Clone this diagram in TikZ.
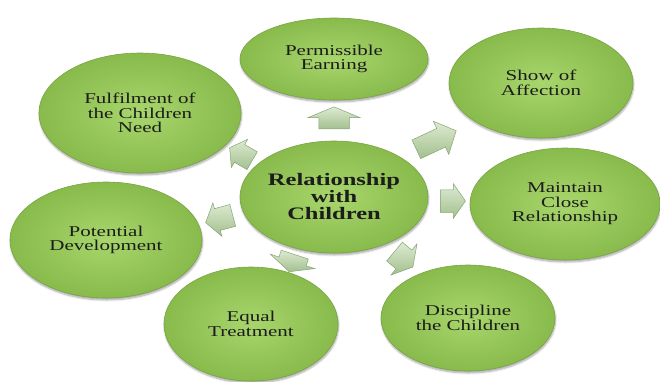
\documentclass[tikz,border=0pt]{standalone}
\usepackage{fontspec}
\setmainfont{Liberation Serif}[FakeStretch=1.4]
\usetikzlibrary{shapes.geometric,shapes.arrows,shadows.blur}
\definecolor{ellin}{HTML}{A8D66C}
\definecolor{ellout}{HTML}{88BA4C}
\definecolor{ellline}{HTML}{7AA444}
\definecolor{arrtop}{HTML}{DDEBD2}
\definecolor{arrbot}{HTML}{A3BF8E}
\definecolor{arrline}{HTML}{86A474}
\definecolor{txt}{HTML}{1C1C1C}
\tikzset{
  bubble/.style={ellipse, inner sep=0pt, draw=ellline, line width=0.6pt,
    inner color=ellin, outer color=ellout, align=center, text=txt,
    font=\fontsize{15}{14.6}\selectfont,
    blur shadow={shadow xshift=0.5pt, shadow yshift=-2pt, shadow blur steps=6, shadow opacity=35}},
  hub/.style={bubble, font=\fontsize{17.5}{17}\selectfont\bfseries},
  blockarrow/.style={single arrow, inner xsep=0pt, draw=arrline, line width=0.5pt,
    top color=arrtop, bottom color=arrbot, shading angle=0},
}
\begin{document}
\begin{tikzpicture}[x=1pt,y=-1pt]
\useasboundingbox (0,0) rectangle (660,381);
% satellites
\node[bubble, minimum width=188, minimum height=82] (perm) at (334,59) {Permissible\\Earning};
\node[bubble, minimum width=184, minimum height=110] (show) at (541,83) {Show of\\Affection};
\node[bubble, minimum width=202, minimum height=120] (ful) at (140,113) {Fulfilment of\\the Children\\Need};
\node[bubble, minimum width=190, minimum height=112] (maint) at (565,204) {Maintain\\Close\\Relationship};
\node[bubble, minimum width=192, minimum height=116] (pot) at (106,240) {Potential\\Development};
\node[bubble, minimum width=174, minimum height=114] (eq) at (251,324) {Equal\\Treatment};
\node[bubble, minimum width=174, minimum height=106] (dis) at (468,318) {Discipline\\the Children};
% hub
\node[hub, minimum width=188, minimum height=112] (hub) at (334,197) {Relationship\\with\\Children};
% arrows
\node[blockarrow, rotate=90, minimum height=22, inner ysep=15pt, single arrow head extend=11pt, single arrow tip angle=135] (a1) at (334,121) {};
\node[blockarrow, rotate=25, minimum height=44, inner ysep=10pt, single arrow head extend=8pt, single arrow tip angle=95] (a2) at (432,142) {};
\node[blockarrow, rotate=0, minimum height=25, inner ysep=11pt, single arrow head extend=6pt, single arrow tip angle=110] (a3) at (449,201) {};
\node[blockarrow, rotate=-40, minimum height=24, inner ysep=12pt, single arrow head extend=8pt, single arrow tip angle=120] (a4) at (401,257) {};
\node[blockarrow, rotate=252, minimum height=18, inner ysep=14pt, single arrow head extend=9pt, single arrow tip angle=130] (a5) at (293,260) {};
\node[blockarrow, rotate=195, minimum height=28, inner ysep=11pt, single arrow head extend=6pt, single arrow tip angle=110] (a6) at (223,218) {};
\node[blockarrow, rotate=150, minimum height=26, inner ysep=10pt, single arrow head extend=6pt, single arrow tip angle=110] (a7) at (244,156) {};
\end{tikzpicture}
\end{document}
